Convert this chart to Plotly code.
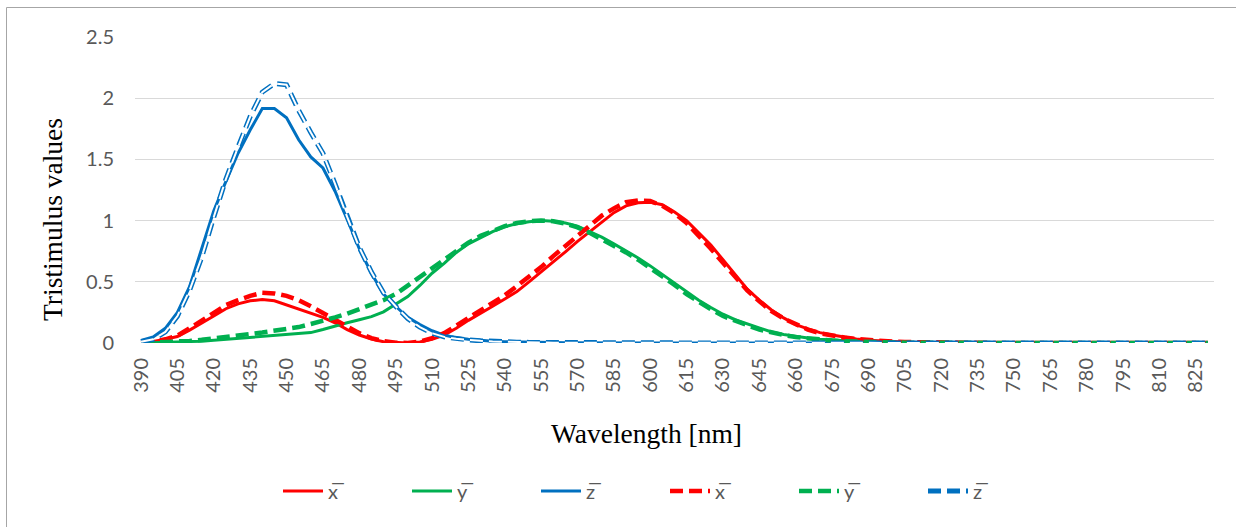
import plotly.graph_objects as go

wavelength = list(range(390, 835, 5))
tick_vals = list(range(390, 830, 15))
tick_text = [str(v) for v in tick_vals]
y_tick_vals = [0, 0.5, 1, 1.5, 2, 2.5]
y_tick_text = ["0", "0.5", "1", "1.5", "2", "2.5"]

x_bar_solid = [
    0.003, 0.012, 0.03, 0.053, 0.105, 0.16, 0.22, 0.28, 0.32, 0.345,
    0.355, 0.345, 0.31, 0.275, 0.24, 0.21, 0.165, 0.11, 0.065, 0.033,
    0.01, 0.002, 0.0, 0.008, 0.03, 0.065, 0.12, 0.185, 0.24, 0.30,
    0.36, 0.42, 0.50, 0.58, 0.665, 0.745, 0.83, 0.91, 0.99, 1.065,
    1.12, 1.145, 1.15, 1.13, 1.07, 1.00, 0.90, 0.80, 0.68, 0.56,
    0.44, 0.35, 0.27, 0.205, 0.15, 0.115, 0.085, 0.065, 0.047, 0.033,
    0.022, 0.016, 0.011, 0.008, 0.005, 0.004, 0.003, 0.002, 0.002, 0.001,
    0.001, 0.001, 0.001, 0.001, 0.0, 0.0, 0.0, 0.0, 0.0, 0.0,
    0.0, 0.0, 0.0, 0.0, 0.0, 0.0, 0.0, 0.0, 0.0,
]
y_bar_solid = [
    0.0, 0.002, 0.004, 0.006, 0.01, 0.015, 0.022, 0.03, 0.038, 0.046,
    0.053, 0.058, 0.064, 0.072, 0.085, 0.11, 0.14, 0.165, 0.19, 0.215,
    0.255, 0.32, 0.38, 0.47, 0.57, 0.65, 0.74, 0.81, 0.86, 0.91,
    0.95, 0.975, 0.99, 1.0, 0.995, 0.98, 0.955, 0.91, 0.865, 0.81,
    0.755, 0.695, 0.63, 0.56, 0.49, 0.415, 0.35, 0.29, 0.235, 0.19,
    0.155, 0.12, 0.09, 0.07, 0.053, 0.04, 0.03, 0.024, 0.017, 0.012,
    0.009, 0.006, 0.004, 0.003, 0.002, 0.002, 0.001, 0.001, 0.001, 0.0,
    0.0, 0.0, 0.0, 0.0, 0.0, 0.0, 0.0, 0.0, 0.0, 0.0,
    0.0, 0.0, 0.0, 0.0, 0.0, 0.0, 0.0, 0.0, 0.0,
]
z_bar_solid = [
    0.02, 0.05, 0.12, 0.25, 0.46, 0.78, 1.08, 1.32, 1.55, 1.74,
    1.915, 1.915, 1.84, 1.66, 1.52, 1.43, 1.24, 1.01, 0.77, 0.57,
    0.40, 0.30, 0.21, 0.15, 0.10, 0.065, 0.042, 0.03, 0.02, 0.015,
    0.011, 0.008, 0.006, 0.005, 0.004, 0.003, 0.002, 0.002, 0.001, 0.001,
    0.001, 0.001, 0.0, 0.0, 0.0, 0.0, 0.0, 0.0, 0.0, 0.0,
    0.0, 0.0, 0.0, 0.0, 0.0, 0.0, 0.0, 0.0, 0.0, 0.0,
    0.0, 0.0, 0.0, 0.0, 0.0, 0.0, 0.0, 0.0, 0.0, 0.0,
    0.0, 0.0, 0.0, 0.0, 0.0, 0.0, 0.0, 0.0, 0.0, 0.0,
    0.0, 0.0, 0.0, 0.0, 0.0, 0.0, 0.0, 0.0, 0.0,
]
x_bar_dashed = [
    0.002, 0.01, 0.03, 0.06, 0.12, 0.18, 0.25, 0.31, 0.35, 0.385,
    0.41, 0.405, 0.385, 0.35, 0.30, 0.245, 0.19, 0.13, 0.08, 0.04,
    0.015, 0.003, 0.0, 0.012, 0.04, 0.08, 0.14, 0.20, 0.265, 0.33,
    0.39, 0.465, 0.54, 0.62, 0.71, 0.79, 0.87, 0.96, 1.04, 1.10,
    1.15, 1.165, 1.16, 1.12, 1.06, 0.98, 0.88, 0.77, 0.655, 0.54,
    0.43, 0.34, 0.26, 0.20, 0.15, 0.11, 0.08, 0.06, 0.045, 0.033,
    0.023, 0.016, 0.011, 0.008, 0.006, 0.004, 0.003, 0.002, 0.002, 0.001,
    0.001, 0.001, 0.001, 0.001, 0.0, 0.0, 0.0, 0.0, 0.0, 0.0,
    0.0, 0.0, 0.0, 0.0, 0.0, 0.0, 0.0, 0.0, 0.0,
]
y_bar_dashed = [
    0.0, 0.002, 0.005, 0.01, 0.017, 0.026, 0.036, 0.047, 0.06, 0.074,
    0.086, 0.098, 0.11, 0.13, 0.155, 0.18, 0.21, 0.24, 0.275, 0.31,
    0.35, 0.40, 0.47, 0.55, 0.62, 0.69, 0.76, 0.82, 0.875, 0.92,
    0.955, 0.98, 0.995, 1.0, 0.995, 0.975, 0.945, 0.90, 0.85, 0.795,
    0.74, 0.68, 0.615, 0.545, 0.475, 0.40, 0.335, 0.275, 0.22, 0.18,
    0.145, 0.11, 0.085, 0.065, 0.048, 0.036, 0.027, 0.02, 0.014, 0.01,
    0.007, 0.005, 0.004, 0.003, 0.002, 0.001, 0.001, 0.001, 0.0, 0.0,
    0.0, 0.0, 0.0, 0.0, 0.0, 0.0, 0.0, 0.0, 0.0, 0.0,
    0.0, 0.0, 0.0, 0.0, 0.0, 0.0, 0.0, 0.0, 0.0,
]
z_bar_dashed = [
    0.01, 0.03, 0.09, 0.22, 0.43, 0.70, 1.03, 1.34, 1.60, 1.85,
    2.05, 2.12, 2.11, 1.90, 1.72, 1.55, 1.30, 1.03, 0.78, 0.58,
    0.41, 0.30, 0.20, 0.13, 0.08, 0.05, 0.035, 0.025, 0.018, 0.012,
    0.009, 0.007, 0.005, 0.004, 0.003, 0.002, 0.002, 0.001, 0.001, 0.001,
    0.0, 0.0, 0.0, 0.0, 0.0, 0.0, 0.0, 0.0, 0.0, 0.0,
    0.0, 0.0, 0.0, 0.0, 0.0, 0.0, 0.0, 0.0, 0.0, 0.0,
    0.0, 0.0, 0.0, 0.0, 0.0, 0.0, 0.0, 0.0, 0.0, 0.0,
    0.0, 0.0, 0.0, 0.0, 0.0, 0.0, 0.0, 0.0, 0.0, 0.0,
    0.0, 0.0, 0.0, 0.0, 0.0, 0.0, 0.0, 0.0, 0.0,
]

RED = "#FF0000"
GREEN = "#00B050"
BLUE = "#0070C0"
DASH = "13px,6px"

W, H = 1236, 527
ML, MR, MT, MB = 135, 22, 37, 184
PW, PH = W - ML - MR, H - MT - MB


def px_x(px):
    return (px - ML) / PW


def px_y(py):
    return (H - MB - py) / PH


fig = go.Figure()
series = [
    ("x\u0305", x_bar_solid, RED, "solid", 3),
    ("y\u0305", y_bar_solid, GREEN, "solid", 3),
    ("z\u0305", z_bar_solid, BLUE, "solid", 3),
    ("x\u0305", x_bar_dashed, RED, DASH, 4.5),
    ("y\u0305", y_bar_dashed, GREEN, DASH, 4.5),
    ("z\u0305", z_bar_dashed, BLUE, DASH, 5),
]
for name, vals, color, dash, width in series:
    fig.add_trace(go.Scatter(
        x=wavelength, y=vals, mode="lines", name=name,
        line=dict(color=color, dash=dash, width=width),
        hoverinfo="skip",
    ))
# inner white stroke for the double-line (outlined) dashed z series
fig.add_trace(go.Scatter(
    x=wavelength, y=z_bar_dashed, mode="lines", showlegend=False,
    line=dict(color="white", dash=DASH, width=2), hoverinfo="skip",
))

tick_font = dict(family="Lato, Carlito, sans-serif", size=20, color="#595959")
title_font = dict(family="Liberation Serif, Times New Roman, serif", size=27.5, color="black")

fig.update_layout(
    width=W, height=H,
    margin=dict(l=ML, r=MR, t=MT, b=MB),
    paper_bgcolor="white", plot_bgcolor="white",
    showlegend=True,
    legend=dict(
        orientation="h", x=px_x(665), y=px_y(491), xanchor="center", yanchor="middle",
        font=dict(family="Lato, Carlito, sans-serif", size=20, color="#595959"),
        entrywidth=74, entrywidthmode="pixels", itemwidth=40,
        bgcolor="rgba(0,0,0,0)",
    ),
    xaxis=dict(
        range=[387.5, 832.5], tickmode="array", tickvals=tick_vals, ticktext=tick_text,
        tickangle=-90, tickfont=tick_font, showgrid=False, zeroline=False,
        showline=False, ticks="", ticklabelstandoff=10,
    ),
    yaxis=dict(
        range=[0, 2.5], tickmode="array", tickvals=y_tick_vals, ticktext=y_tick_text,
        tickfont=tick_font, showgrid=True, gridcolor="#D9D9D9", gridwidth=1.3,
        zeroline=False, showline=False, ticks="", ticklabelstandoff=20,
    ),
    annotations=[
        dict(text="Wavelength [nm]", xref="paper", yref="paper", x=px_x(646), y=px_y(433),
             xanchor="center", yanchor="middle", showarrow=False, font=title_font),
        dict(text="Tristimulus values", xref="paper", yref="paper", x=px_x(52), y=px_y(220),
             xanchor="center", yanchor="middle", showarrow=False, textangle=-90, font=title_font),
    ],
    shapes=[
        dict(type="rect", xref="paper", yref="paper", x0=px_x(6.5), y0=px_y(540),
             x1=px_x(1250), y1=px_y(7.5), line=dict(color="#A6A6A6", width=1), layer="below"),
    ],
)

fig.write_html(
    "out.html",
    config={"displayModeBar": False},
    post_script="document.body.style.margin='0px';document.body.style.overflow='hidden';",
)
